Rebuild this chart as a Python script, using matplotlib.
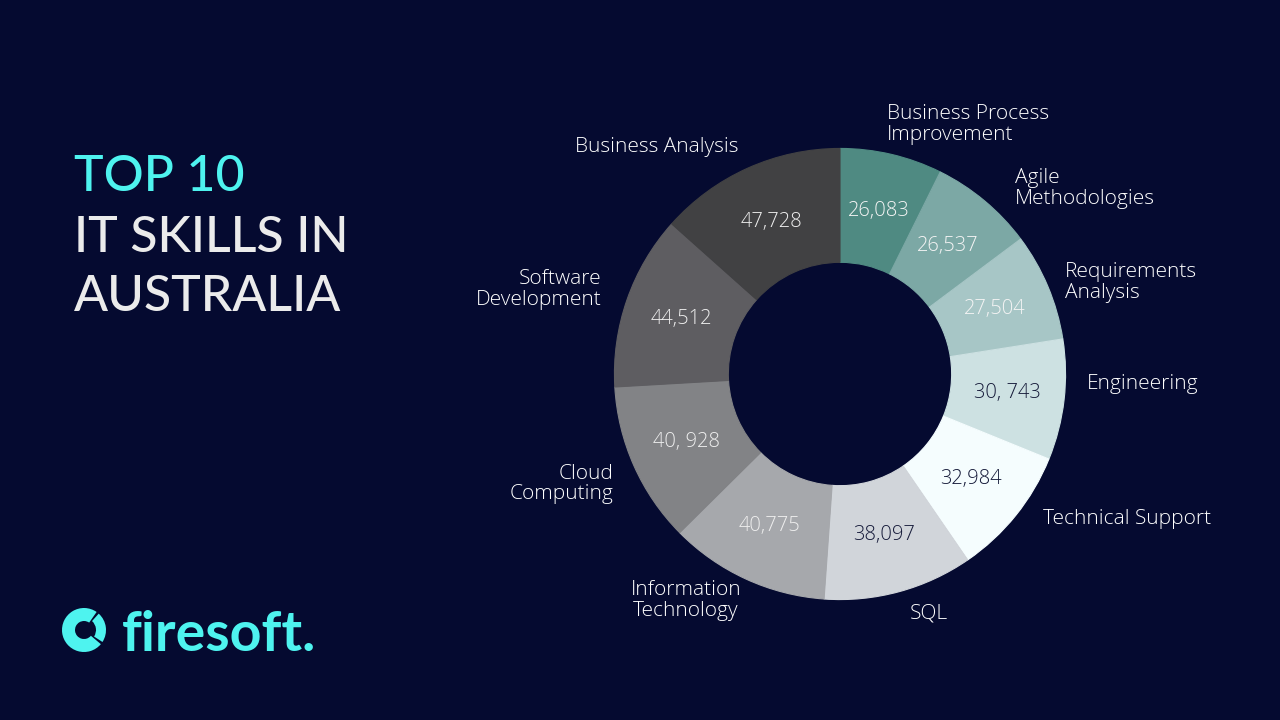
import numpy as np
import matplotlib.pyplot as plt
from matplotlib.patches import Wedge

# ---------------------------
# Data (clockwise from 12 o'clock)
skills = ['Business Process\nImprovement', 'Agile\nMethodologies', 'Requirements\nAnalysis',
          'Engineering', 'Technical Support', 'SQL', 'Information\nTechnology',
          'Cloud\nComputing', 'Software\nDevelopment', 'Business Analysis']
counts = [26083, 26537, 27504, 30743, 32984, 38097, 40775, 40928, 44512, 47728]
count_labels = ['26,083', '26,537', '27,504', '30, 743', '32,984',
                '38,097', '40,775', '40, 928', '44,512', '47,728']

slice_colors = ['#4f8a82', '#7ca8a5', '#a7c6c6', '#cde1e2', '#f5fdfe',
                '#d1d5da', '#a6a8ac', '#828386', '#5e5d61', '#414143']
value_colors = ['#f4f4f4', '#f4f4f4', '#f4f4f4', '#161b3a', '#161b3a',
                '#161b3a', '#eeeeee', '#eeeeee', '#eeeeee', '#eeeeee']

# small pixel nudges for the outer labels (right, down)
label_nudge = [(-10, -8), (16, 5), (-4, 5), (0, -19), (10, -11),
               (5, 0), (5, 1), (0, 9), (-4, -3), (0, -1)]

BG = '#050a30'
CYAN = '#4ef3ef'
LIGHT = '#ebebeb'
LABEL_FONT = ['Open Sans', 'DejaVu Sans']

plt.rcParams['font.family'] = ['Lato', 'DejaVu Sans']

fig = plt.figure(figsize=(12.8, 7.2), dpi=100, facecolor=BG)

# ---------------------------
# Donut
ax = fig.add_axes([540 / 1280, 46 / 720, 600 / 1280, 600 / 720])
ax.set_facecolor(BG)
wedges, texts = ax.pie(counts, colors=slice_colors, startangle=90, counterclock=False,
                       radius=1, labels=skills, labeldistance=1.1,
                       wedgeprops=dict(width=0.505, linewidth=0),
                       textprops=dict(color='white', fontsize=15, family=LABEL_FONT,
                                      fontweight='light', linespacing=1.05))
ax.set_xlim(-1.33, 1.33)
ax.set_ylim(-1.33, 1.33)
ax.set_aspect('equal')
ax.axis('off')

px = 600 / 2.66  # pixels per data unit

for w in wedges:
    w.set_edgecolor(w.get_facecolor())
    w.set_linewidth(0.8)

for t, (dx, dy) in zip(texts, label_nudge):
    t.set_multialignment(t.get_horizontalalignment())
    x, y = t.get_position()
    t.set_position((x + dx / px, y - dy / px))
texts[6].set_multialignment('center')

# value labels in the middle of the ring
for w, lab, col in zip(wedges, count_labels, value_colors):
    mid = np.deg2rad((w.theta1 + w.theta2) / 2)
    ax.text(0.745 * np.cos(mid), 0.74 * np.sin(mid), lab, color=col,
            ha='center', va='center', fontsize=14.5, family=LABEL_FONT, fontweight='light')

# ---------------------------
# Title and logo (overlay in pixel coordinates)
ov = fig.add_axes([0, 0, 1, 1])
ov.set_xlim(0, 1280)
ov.set_ylim(720, 0)
ov.axis('off')
ov.patch.set_alpha(0)

ov.text(74, 177, 'TOP 10', color=CYAN, fontsize=36, fontweight='medium', va='center', ha='left')
ov.text(74, 238, 'IT SKILLS IN', color=LIGHT, fontsize=36, fontweight='medium', va='center', ha='left')
ov.text(74, 297, 'AUSTRALIA', color=LIGHT, fontsize=36, fontweight='medium', va='center', ha='left')

# logo icon: split ring
ov.add_patch(Wedge((84, 630), 22, 40, 305, width=13, color=CYAN, linewidth=0))
ov.add_patch(Wedge((84, 630), 22, -48, 33, width=10, color=CYAN, linewidth=0))
ov.text(122, 651, 'firesoft.', color=CYAN, fontsize=40, fontweight='bold', va='baseline', ha='left')

fig.savefig('out.png', dpi=100, facecolor=BG)
